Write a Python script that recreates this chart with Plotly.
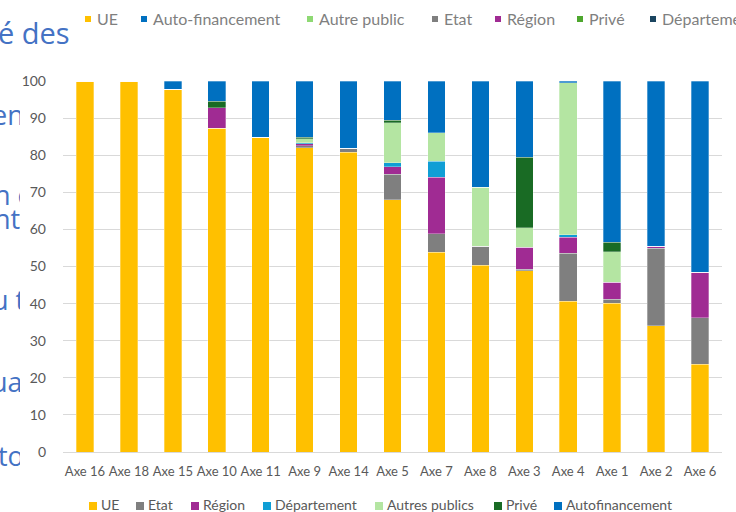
import plotly.graph_objects as go

# ---------------- data ----------------
categories = ["Axe 16", "Axe 18", "Axe 15", "Axe 10", "Axe 11", "Axe 9", "Axe 14",
              "Axe 5", "Axe 7", "Axe 8", "Axe 3", "Axe 4", "Axe 1", "Axe 2", "Axe 6"]

ue           = [100, 100, 97.8, 87.2, 84.9, 82.0, 80.8, 68.0, 53.8, 50.4, 48.8, 40.7, 40.1, 34.0, 23.7]
etat         = [0, 0, 0, 0, 0, 0.5, 1.1, 6.9, 5.0, 5.1, 0.5, 12.9, 1.1, 20.9, 12.5]
region       = [0, 0, 0, 5.6, 0, 0.6, 0, 2.0, 15.3, 0, 5.9, 4.3, 4.5, 0.6, 12.2]
departement  = [0, 0, 0, 0, 0, 0.2, 0, 1.1, 4.3, 0, 0, 0.7, 0, 0, 0]
autres_publics = [0, 0, 0, 0, 0, 1.2, 0, 10.7, 7.7, 15.8, 5.3, 40.9, 8.3, 0, 0]
prive        = [0, 0, 0, 1.7, 0, 0.4, 0, 0.7, 0, 0, 18.9, 0, 2.5, 0, 0]
autofinancement = [0, 0, 2.2, 5.5, 15.1, 15.1, 18.1, 10.6, 13.9, 28.7, 20.6, 0.5, 43.5, 44.5, 51.6]

series_names = ["UE", "Etat", "Région", "Département", "Autres publics", "Privé", "Autofinancement"]
series_values = [ue, etat, region, departement, autres_publics, prive, autofinancement]
series_colors = ["#FFC000", "#7F7F7F", "#A02B93", "#0F9ED5", "#B4E5A2", "#196B24", "#0070C0"]

y_ticks = [0, 10, 20, 30, 40, 50, 60, 70, 80, 90, 100]

# second (top) legend of the slide
top_legend_names = ["UE", "Auto-financement", "Autre public", "Etat", "Région", "Privé", "Département"]
top_legend_colors = ["#FFC000", "#0070C0", "#8ED973", "#7F7F7F", "#A02B93", "#4EA72E", "#1B4560"]

# slide text fragments visible at the left
slide_fragments = ["é des", "en", "n c", "nt", "u t", "ua", "to"]

# ---------------- layout helpers ----------------
W, H = 736, 512
L, R, T, B = 63, 14, 81, 60
PW, PH = W - L - R, H - T - B


def px(x):
    return (x - L) / PW


def py(y):
    return (H - B - y) / PH


fig = go.Figure()
for name, vals, col in zip(series_names, series_values, series_colors):
    fig.add_trace(go.Bar(
        x=categories, y=vals, name=name,
        marker=dict(color=col, line=dict(color="rgba(255,255,255,0.6)", width=0.5)),
        showlegend=False,
    ))

font_family = "Lato, 'Open Sans', sans-serif"
annotations = []
shapes = []

# bottom legend
bottom_sq = [89, 136, 191, 263, 375, 494, 554]
for name, col, x0 in zip(series_names, series_colors, bottom_sq):
    shapes.append(dict(type="rect", xref="paper", yref="paper",
                       x0=px(x0), x1=px(x0 + 8), y0=py(510), y1=py(502),
                       fillcolor=col, line=dict(width=0)))
    annotations.append(dict(text=name, xref="paper", yref="paper", x=px(x0 + 10), y=py(504),
                            xanchor="left", yanchor="middle", showarrow=False,
                            font=dict(family=font_family, size=14, color="#595959")))

# top legend
top_sq = [85, 141, 307, 432, 495, 577, 650]
for name, col, x0 in zip(top_legend_names, top_legend_colors, top_sq):
    shapes.append(dict(type="rect", xref="paper", yref="paper",
                       x0=px(x0), x1=px(x0 + 6), y0=py(22), y1=py(16),
                       fillcolor=col, line=dict(width=0)))
    annotations.append(dict(text=name, xref="paper", yref="paper", x=px(x0 + 10), y=py(19),
                            xanchor="left", yanchor="middle", showarrow=False,
                            font=dict(family=font_family, size=16, color="#7F7F7F")))

# slide fragments: (text left x, centre y, visible right edge or None)
frag_pos = [(-3, 33, None), (-9, 114, 19), (-7, 194, 19), (-7, 218, 19),
            (-9, 299, 19), (-10, 381, 19), (-3, 455, 19)]
for txt, (x0, y0, clip) in zip(slide_fragments, frag_pos):
    ann = dict(text=txt, xref="paper", yref="paper", x=px(x0), y=py(y0),
               xanchor="left", yanchor="middle", showarrow=False, align="left",
               borderpad=0,
               font=dict(family="'Open Sans', sans-serif", size=27 if clip else 29,
                         color="#4472C4"))
    if clip is not None:
        ann["width"] = clip - x0
    annotations.append(ann)

fig.update_layout(
    width=W, height=H,
    margin=dict(l=L, r=R, t=T, b=B),
    barmode="stack", bargap=0.6,
    paper_bgcolor="white", plot_bgcolor="white",
    font=dict(family=font_family, size=14, color="#595959"),
    xaxis=dict(showgrid=False, showline=True, linecolor="#D9D9D9", linewidth=1,
               tickfont=dict(size=13, color="#595959"), ticks="", tickangle=0,
               ticklabelstandoff=7, automargin=False),
    yaxis=dict(range=[0, 100], tickvals=y_ticks, showgrid=True, gridcolor="#D9D9D9",
               gridwidth=1, zeroline=False, showline=False, ticks="",
               tickfont=dict(size=14, color="#595959"), ticklabelstandoff=16,
               automargin=False),
    annotations=annotations,
    shapes=shapes,
)

fig.write_html("out.html",
               config={"displayModeBar": False},
               post_script="document.body.style.margin='0';document.body.style.overflow='hidden';")
